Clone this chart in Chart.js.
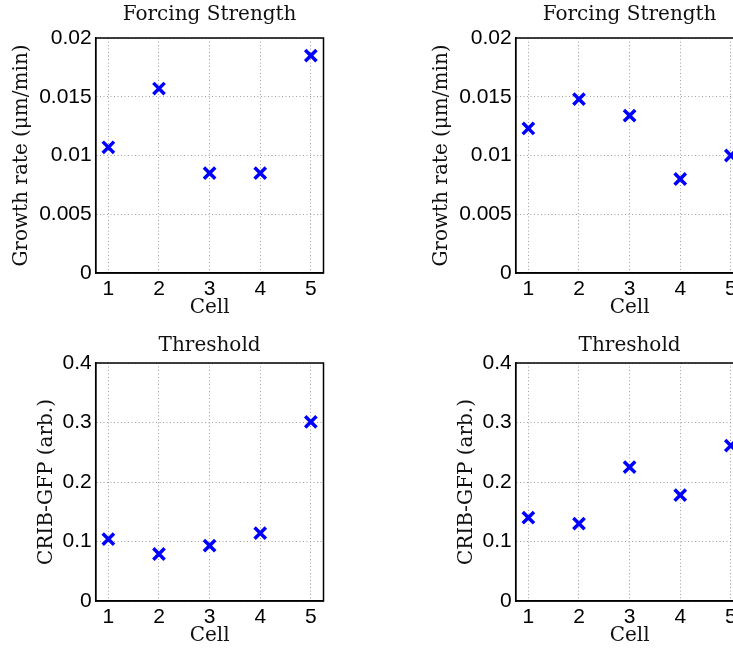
<!DOCTYPE html>
<html>
<head>
<meta charset="utf-8">
<script src="https://cdn.jsdelivr.net/npm/chart.js@4/dist/chart.umd.min.js"></script>
<style>
  body { margin: 0; width: 733px; height: 650px; overflow: hidden; background: #fff; position: relative; }
  canvas { position: absolute; }
</style>
</head>
<body>
<canvas id="growthA" width="340" height="320" style="left:0;top:0"></canvas>
<canvas id="growthB" width="340" height="320" style="left:420px;top:0"></canvas>
<canvas id="threshA" width="340" height="320" style="left:0;top:328px"></canvas>
<canvas id="threshB" width="340" height="320" style="left:420px;top:328px"></canvas>
<script>
const cells = [1, 2, 3, 4, 5];
const growthLeft = [0.0107, 0.0157, 0.0085, 0.0085, 0.0185];
const growthRight = [0.0123, 0.0148, 0.0134, 0.0080, 0.0100];
const thresholdLeft = [0.104, 0.079, 0.093, 0.114, 0.301];
const thresholdRight = [0.140, 0.130, 0.225, 0.178, 0.261];
const growthTicks = [0, 0.005, 0.01, 0.015, 0.02];
const thresholdTicks = [0, 0.1, 0.2, 0.3, 0.4];

const serif = 'DejaVu Serif';
const sans = 'Liberation Sans';

// matlab style closed box around the axes
const boxPlugin = {
  id: 'box',
  beforeDatasetsDraw(chart) {
    const a = chart.chartArea;
    const ctx = chart.ctx;
    ctx.save();
    ctx.strokeStyle = '#000';
    ctx.lineWidth = 1.5;
    ctx.strokeRect(a.left, a.top, a.right - a.left, a.bottom - a.top);
    ctx.restore();
  }
};

function makePanel(id, title, yLabel, values, yTicks, pad) {
  const ctx = document.getElementById(id).getContext('2d');
  return new Chart(ctx, {
    type: 'scatter',
    data: {
      datasets: [{
        data: cells.map((c, i) => ({ x: c, y: values[i] })),
        pointStyle: 'crossRot',
        pointRadius: 8,
        pointHoverRadius: 8,
        borderWidth: 3.5,
        borderColor: '#0000ff',
        backgroundColor: '#0000ff'
      }]
    },
    options: {
      responsive: false,
      animation: false,
      devicePixelRatio: 1,
      layout: { padding: { left: 0, right: 16.5, top: 0, bottom: 0 } },
      plugins: {
        legend: { display: false },
        tooltip: { enabled: false },
        title: {
          display: true,
          fullSize: false,
          text: title,
          color: '#111',
          font: { family: serif, size: 20, weight: 'normal' },
          padding: { top: pad.titleTop, bottom: pad.titleBottom }
        }
      },
      scales: {
        x: {
          type: 'linear',
          min: 0.75,
          max: 5.25,
          afterBuildTicks: s => { s.ticks = cells.map(v => ({ value: v })); },
          afterFit: s => { s.height = 47; },
          ticks: { color: '#000', font: { family: sans, size: 21 }, padding: 4, maxRotation: 0 },
          grid: { color: '#a0a0a0', drawTicks: false, lineWidth: 1 },
          border: { color: '#000', width: 1.5, dash: [1, 2.5] },
          title: {
            display: true, text: 'Cell', color: '#111',
            font: { family: serif, size: 20 },
            padding: { top: 0, bottom: 0 }
          }
        },
        y: {
          min: yTicks[0],
          max: yTicks[yTicks.length - 1],
          afterBuildTicks: s => { s.ticks = yTicks.map(v => ({ value: v })); },
          afterFit: s => { s.width = 95.7; },
          ticks: { color: '#000', font: { family: sans, size: 21 }, padding: 4, callback: v => String(v) },
          grid: { color: '#a0a0a0', drawTicks: false, lineWidth: 1 },
          border: { color: '#000', width: 1.5, dash: [1, 2.5] },
          title: {
            display: true, text: yLabel, color: '#111',
            font: { family: serif, size: 20 },
            padding: { top: pad.yTitle, bottom: 0 }
          }
        }
      }
    },
    plugins: [boxPlugin]
  });
}

const topPad = { titleTop: 3, titleBottom: 11, yTitle: 10 };
const bottomPad = { titleTop: 6, titleBottom: 5, yTitle: 35 };

makePanel('growthA', 'Forcing Strength', 'Growth rate (μm/min)', growthLeft, growthTicks, topPad);
makePanel('growthB', 'Forcing Strength', 'Growth rate (μm/min)', growthRight, growthTicks, topPad);
makePanel('threshA', 'Threshold', 'CRIB-GFP (arb.)', thresholdLeft, thresholdTicks, bottomPad);
makePanel('threshB', 'Threshold', 'CRIB-GFP (arb.)', thresholdRight, thresholdTicks, bottomPad);
</script>
</body>
</html>
